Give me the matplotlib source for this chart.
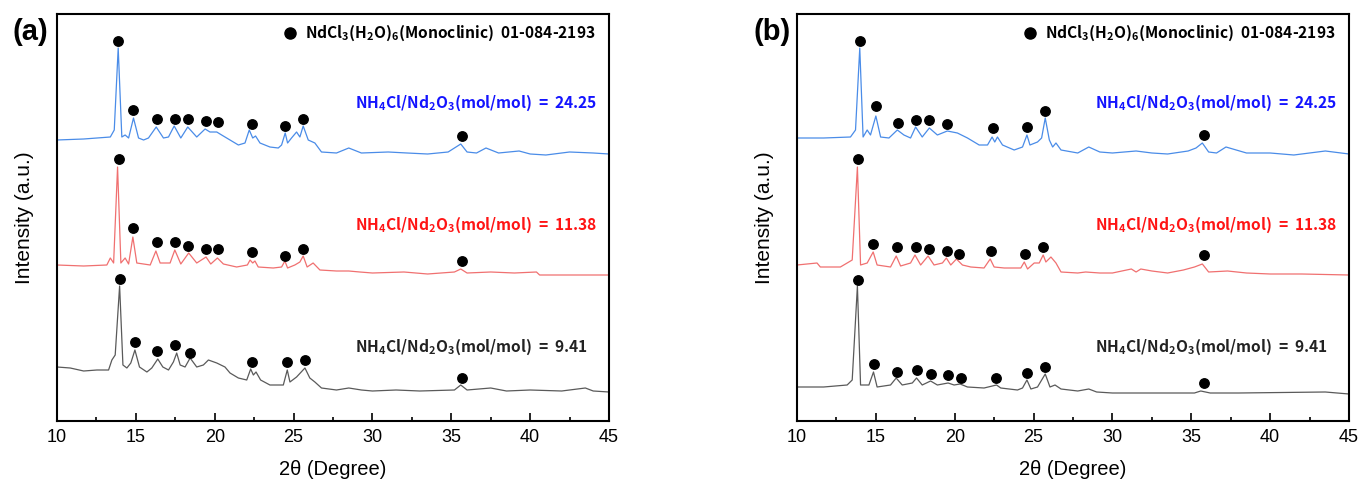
import matplotlib
matplotlib.use("Agg")
import matplotlib.pyplot as plt
from matplotlib.ticker import MultipleLocator

plt.rcParams["font.family"] = ["Liberation Sans", "DejaVu Sans"]
plt.rcParams["mathtext.fontset"] = "custom"
plt.rcParams["mathtext.rm"] = "Noto Sans CJK KR"
plt.rcParams["mathtext.bf"] = "Noto Sans CJK KR:bold"

# ---- panel (a) traces: 2theta (deg) and displayed intensity (a.u., stacked) ----
a_blue_x = [10.0, 11.69, 13.38, 13.63, 13.88, 14.11, 14.32, 14.54, 14.85, 15.17, 15.49, 15.80,
            16.29, 16.75, 17.07, 17.43, 17.85, 18.29, 18.86, 19.39, 19.70, 20.13, 20.44, 20.97,
            21.50, 21.92, 22.19, 22.41, 22.59, 22.87, 23.50, 24.03, 24.24, 24.47, 24.62, 24.87,
            25.19, 25.40, 25.61, 25.93, 26.35, 26.77, 27.72, 28.5, 29.3, 31.0, 32.2, 33.5, 34.8,
            35.3, 35.6, 36.0, 36.6, 37.2, 38.0, 39.3, 40.0, 41.0, 42.5, 44.0, 45.0]
a_blue_y = [281, 282, 284, 291, 373, 284, 286, 283, 303, 283, 281, 283,
            294, 283, 284, 295, 283, 294, 284, 292, 289, 289, 286, 281,
            276, 278, 291, 283, 285, 278, 274, 273, 276, 288, 278, 283,
            289, 284, 295, 281, 278, 269, 268, 273, 268, 269, 268, 267, 269,
            274, 277, 269, 268, 273, 268, 270, 267, 266, 269, 268, 267]

a_red_x = [10.0, 11.69, 13.16, 13.38, 13.59, 13.84, 14.05, 14.32, 14.54, 14.81, 15.06, 15.91,
           16.27, 16.54, 17.17, 17.47, 17.85, 18.35, 18.86, 19.45, 19.75, 20.17, 20.55, 21.39,
           22.07, 22.24, 22.41, 22.55, 22.76, 23.71, 24.24, 24.45, 24.62, 25.08, 25.40, 25.61,
           25.86, 26.24, 26.67, 27.72, 28.5, 29.2, 30.0, 32.0, 33.5, 35.2, 35.6, 36.0, 37.5,
           39.0, 40.4, 40.6, 42.0, 45.0]
a_red_y = [156, 155, 156, 163, 158, 254, 158, 163, 157, 184, 158, 156,
           170, 158, 158, 171, 157, 168, 158, 164, 157, 163, 157, 154,
           156, 161, 158, 160, 154, 153, 154, 160, 153, 156, 159, 165,
           154, 158, 151, 150, 150, 149, 148, 149, 147, 149, 152, 148, 149,
           148, 149, 146, 146, 146]

a_gray_x = [10.0, 10.84, 11.69, 12.53, 13.27, 13.48, 13.69, 13.97, 14.18, 14.43, 14.68, 14.94,
            15.23, 15.70, 16.01, 16.39, 16.71, 17.07, 17.38, 17.59, 17.81, 18.12, 18.44, 18.86,
            19.28, 19.60, 20.13, 20.65, 20.97, 21.50, 22.03, 22.28, 22.45, 22.62, 22.91, 23.50,
            24.35, 24.60, 24.77, 25.19, 25.72, 26.03, 26.35, 26.77, 27.72, 28.5, 29.3, 30.0,
            31.5, 33.0, 35.2, 35.6, 36.0, 37.5, 38.5, 40.0, 42.0, 43.5, 44.0, 45.0]
a_gray_y = [54, 53, 50, 51, 51, 61, 66, 135, 56, 53, 58, 71,
            54, 49, 53, 62, 54, 51, 59, 68, 56, 54, 63, 54,
            56, 61, 58, 54, 48, 43, 41, 52, 46, 49, 41, 36,
            36, 51, 39, 44, 53, 43, 39, 33, 31, 33, 31, 30,
            31, 30, 31, 36, 31, 33, 30, 31, 30, 33, 30, 29]

# ---- panel (b) traces ----
b_blue_x = [10.0, 11.69, 13.39, 13.71, 13.98, 14.19, 14.45, 14.66, 15.00, 15.30, 15.83, 16.36,
            16.78, 17.20, 17.52, 17.94, 18.39, 18.90, 19.53, 20.17, 20.81, 21.55, 22.08, 22.37,
            22.54, 22.71, 23.03, 23.77, 24.30, 24.58, 24.77, 25.25, 25.51, 25.74, 26.00, 26.21,
            26.42, 26.74, 27.80, 28.5, 29.2, 30.0, 31.5, 32.5, 33.5, 34.8, 35.3, 35.7, 36.1,
            36.6, 37.2, 38.5, 40.0, 41.5, 43.5, 45.0]
b_blue_y = [283, 283, 284, 291, 373, 284, 291, 286, 305, 284, 283, 291,
            286, 283, 294, 284, 293, 286, 290, 288, 283, 276, 276, 284,
            279, 284, 276, 271, 274, 286, 276, 279, 283, 303, 281, 274,
            278, 271, 268, 274, 269, 268, 270, 268, 267, 270, 273, 278, 269,
            268, 274, 268, 268, 266, 270, 267]

b_red_x = [10.0, 11.27, 11.48, 12.75, 13.18, 13.50, 13.83, 14.03, 14.45, 14.83, 15.08, 15.93,
           16.29, 16.57, 17.20, 17.48, 17.84, 18.31, 18.69, 19.22, 19.47, 19.75, 20.11, 20.49,
           21.02, 21.86, 22.25, 22.50, 23.14, 24.19, 24.41, 24.62, 25.04, 25.36, 25.61, 25.78,
           26.10, 26.42, 26.74, 27.80, 28.3, 29.2, 30.0, 31.2, 31.5, 31.8, 32.5, 33.5, 34.5,
           35.2, 35.7, 36.1, 37.3, 38.5, 40.0, 42.0, 45.0]
b_red_y = [156, 158, 154, 154, 158, 161, 254, 156, 158, 169, 156, 154,
           165, 155, 158, 166, 156, 165, 156, 158, 163, 156, 162, 156,
           154, 153, 162, 154, 153, 153, 159, 152, 158, 158, 166, 159,
           164, 158, 149, 148, 149, 148, 148, 152, 149, 152, 150, 148, 151,
           154, 157, 149, 150, 148, 147, 147, 146]

b_gray_x = [10.0, 11.69, 13.18, 13.50, 13.83, 14.03, 14.56, 14.85, 15.08, 15.93, 16.29, 16.67,
            17.31, 17.58, 17.94, 18.47, 18.90, 19.58, 19.96, 20.34, 20.81, 21.86, 22.65, 22.92,
            23.98, 24.30, 24.58, 24.83, 25.25, 25.74, 26.04, 26.36, 26.74, 27.80, 28.5, 29.0,
            30.0, 32.5, 35.2, 35.6, 36.2, 38.0, 43.5, 45.0]
b_gray_y = [34, 34, 36, 41, 135, 36, 36, 49, 34, 36, 43, 36,
            38, 43, 36, 40, 36, 38, 36, 37, 34, 33, 36, 33,
            31, 33, 41, 32, 34, 47, 34, 36, 32, 30, 32, 29,
            28, 28, 28, 30, 28, 28, 29, 27]

# ---- NdCl3(H2O)6 reflection markers ----
a_blue_mk_x = [13.88, 14.83, 16.33, 17.49, 18.31, 19.45, 20.21, 22.36, 24.45, 25.61, 35.7]
a_blue_mk_y = [380, 311, 302, 302, 302, 300, 299, 297, 295, 302, 285]
a_red_mk_x = [13.92, 14.83, 16.33, 17.49, 18.33, 19.45, 20.21, 22.36, 24.45, 25.61, 35.7]
a_red_mk_y = [262, 193, 179, 179, 175, 172, 172, 169, 165, 172, 160]
a_gray_mk_x = [14.0, 14.96, 16.37, 17.47, 18.44, 22.36, 24.6, 25.74, 35.7]
a_gray_mk_y = [142, 79, 70, 76, 68, 59, 59, 61, 43]

b_blue_mk_x = [13.98, 15.0, 16.42, 17.52, 18.37, 19.53, 22.44, 24.58, 25.74, 35.8]
b_blue_mk_y = [380, 315, 298, 301, 301, 297, 293, 294, 310, 286]
b_red_mk_x = [13.88, 14.85, 16.36, 17.52, 18.37, 19.53, 20.28, 22.33, 24.43, 25.61, 35.8]
b_red_mk_y = [262, 177, 174, 174, 172, 170, 167, 170, 167, 174, 166]
b_gray_mk_x = [13.88, 14.87, 16.31, 17.63, 18.47, 19.6, 20.38, 22.63, 24.58, 25.72, 35.8]
b_gray_mk_y = [141, 57, 49, 51, 47, 46, 43, 43, 48, 54, 38]

ratios = ["24.25", "11.38", "9.41"]
text_colors = ["#1414ff", "#ff1414", "#222222"]
line_colors = ["#4a8ce8", "#f07070", "#5a5a5a"]
label_y = [0.781, 0.482, 0.183]

panels = [
    ("(a)", 57, 30, 25, [(a_blue_x, a_blue_y), (a_red_x, a_red_y), (a_gray_x, a_gray_y)],
     [(a_blue_mk_x, a_blue_mk_y), (a_red_mk_x, a_red_mk_y), (a_gray_mk_x, a_gray_mk_y)]),
    ("(b)", 797, 772, 765, [(b_blue_x, b_blue_y), (b_red_x, b_red_y), (b_gray_x, b_gray_y)],
     [(b_blue_mk_x, b_blue_mk_y), (b_red_mk_x, b_red_mk_y), (b_gray_mk_x, b_gray_mk_y)]),
]

W, H = 1361, 479
fig = plt.figure(figsize=(W / 100, H / 100), dpi=100)

lab_font = {"family": ["Noto Sans CJK KR", "DejaVu Sans"], "weight": "bold", "size": 11.2}

for tag, left_px, tag_x, ylab_x, traces, markers in panels:
    ax = fig.add_axes([left_px / W, (H - 421) / H, 552 / W, 407 / H])
    for (x, y), c in zip(traces, line_colors):
        ax.plot(x, y, color=c, lw=0.9)
    for mx, my in markers:
        ax.plot(mx, my, "o", color="black", ms=6.8, ls="none")

    ax.set_xlim(10, 45)
    ax.set_ylim(0, 407)
    ax.set_yticks([])
    ax.xaxis.set_major_locator(MultipleLocator(5))
    ax.xaxis.set_minor_locator(MultipleLocator(2.5))
    ax.tick_params(axis="x", which="major", direction="in", length=6, width=1.2,
                   labelsize=13, pad=6)
    ax.tick_params(axis="x", which="minor", direction="in", length=3, width=1.2)
    for sp in ax.spines.values():
        sp.set_linewidth(1.5)
    ax.set_xlabel("2θ (Degree)", fontsize=14.5, labelpad=10)

    # legend line
    ax.plot([0.4215], [0.953], "o", color="black", ms=8, transform=ax.transAxes,
            clip_on=False)
    ax.text(0.4485, 0.953,
            r"NdCl$_\mathbf{3}$(H$_\mathbf{2}$O)$_\mathbf{6}$(Monoclinic)  01-084-2193",
            transform=ax.transAxes, ha="left", va="center", color="black", **lab_font)

    for r, tc, ly in zip(ratios, text_colors, label_y):
        ax.text(0.539, ly,
                r"NH$_\mathbf{4}$Cl/Nd$_\mathbf{2}$O$_\mathbf{3}$(mol/mol)  =  " + r,
                transform=ax.transAxes, ha="left", va="center", color=tc, **lab_font)

    fig.text(tag_x / W, (H - 32) / H, tag, fontsize=21, fontweight="bold",
             ha="center", va="center")
    fig.text(ylab_x / W, (H - 218) / H, "Intensity (a.u.)", fontsize=15,
             rotation=90, ha="center", va="center")

fig.savefig("out.png", dpi=100)
